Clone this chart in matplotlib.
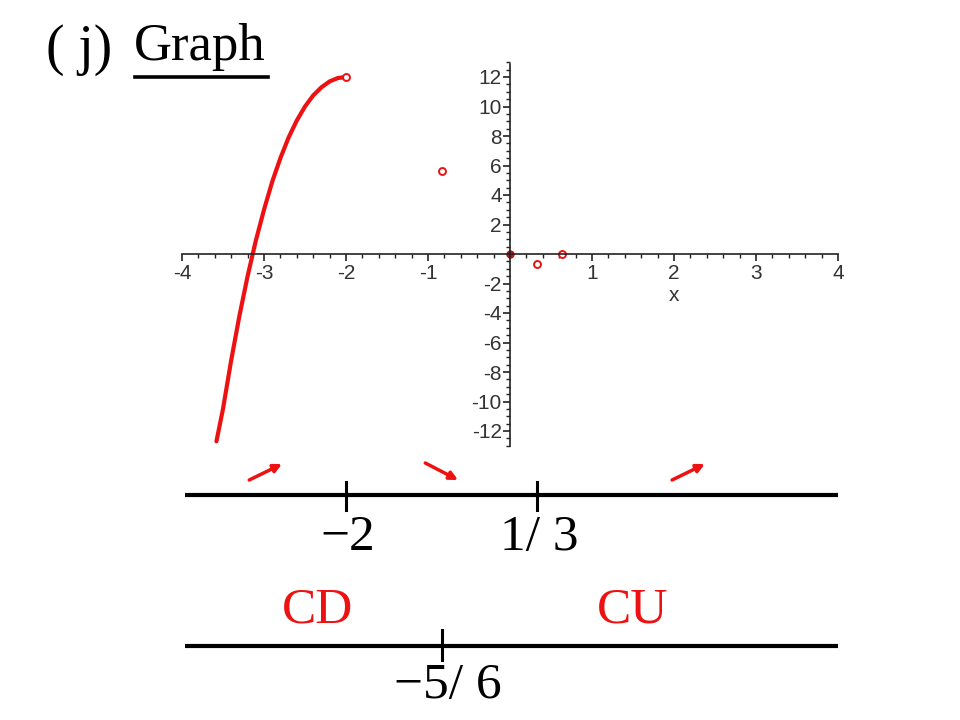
import matplotlib
matplotlib.use("Agg")
import matplotlib.pyplot as plt
from matplotlib.ticker import MultipleLocator

# curve (x, y)
curve_x = [-3.58, -3.5, -3.4, -3.3, -3.2, -3.1, -3.0, -2.9, -2.8, -2.7,
           -2.6, -2.5, -2.4, -2.3, -2.2, -2.1, -2.0]
curve_y = [-12.7, -10.5, -7.2, -4.2, -1.5, 0.9, 3.0, 4.9, 6.5, 7.9,
           9.05, 10.0, 10.75, 11.3, 11.7, 11.93, 12.0]

# isolated points
open_x = [-2.0, -0.83, 0.33, 0.64]
open_y = [12.0, 5.65, -0.7, 0.0]
dot_x = [0.0]
dot_y = [0.0]

# sign charts
crit_points = [-2, 1/3]
crit_labels = ["\u22122", "1/ 3"]
infl_points = [-5/6]
infl_labels = ["\u22125/ 6"]
concavity = ["CD", "CU"]

RED = "#ee1111"
W, H = 960, 720

fig = plt.figure(figsize=(9.6, 7.2), dpi=100)
fig.patch.set_facecolor("white")

# title
fig.text(46 / W, 1 - 50 / H, "( j)", family="Liberation Serif", fontsize=40,
         va="center", ha="left")
fig.text(134 / W, 1 - 47 / H, "Graph", family="Liberation Serif", fontsize=38,
         va="center", ha="left")
fig.add_artist(plt.Line2D([135 / W, 268 / W], [1 - 77 / H, 1 - 77 / H],
                          color="black", lw=2.6))

# main plot, axes through origin
ax = fig.add_axes([182 / W, 1 - 445.75 / H, 656 / W, 383.5 / H])
ax.set_xlim(-4, 4)
ax.set_ylim(-13, 13)
for s in ["top", "right"]:
    ax.spines[s].set_visible(False)
ax.spines["left"].set_position(("data", 0))
ax.spines["bottom"].set_position(("data", 0))
ax.spines["left"].set_bounds(-13, 12.9)
for s in ["left", "bottom"]:
    ax.spines[s].set_color("#222222")
    ax.spines[s].set_linewidth(1.2)
ax.patch.set_alpha(0)

ax.xaxis.set_major_locator(MultipleLocator(1))
ax.xaxis.set_minor_locator(MultipleLocator(0.2))
ax.yaxis.set_major_locator(MultipleLocator(2))
ax.yaxis.set_minor_locator(MultipleLocator(0.5))
ax.tick_params(axis="x", which="major", direction="out", length=5, width=1.2,
               color="#222222", labelsize=15, pad=2)
ax.tick_params(axis="x", which="minor", direction="out", length=3, width=1.0,
               color="#222222")
ax.tick_params(axis="y", which="major", direction="out", length=5, width=1.2,
               color="#222222", labelsize=15, pad=1)
ax.tick_params(axis="y", which="minor", direction="out", length=3, width=1.0,
               color="#222222")
xt = [v for v in range(-4, 5) if v != 0]
ax.set_xticks(xt)
ax.set_xticklabels([str(v) for v in xt], family="Liberation Sans", color="#333333")
yt = [v for v in range(-12, 13, 2) if v != 0]
ax.set_yticks(yt)
ax.set_yticklabels([str(v) for v in yt], family="Liberation Sans", color="#333333")
ax.text(2, -2.2, "x", family="Liberation Sans", fontsize=15, color="#333333",
        ha="center", va="top")

ax.plot(curve_x, curve_y, color=RED, lw=3, solid_capstyle="round", clip_on=False)
ax.plot(open_x, open_y, "o", ms=5, mfc="white", mec=RED, mew=1.4, clip_on=False)
ax.plot(dot_x, dot_y, "o", ms=5, color="#bb1111", clip_on=False)

# number lines share the x scale with the plot
nl = fig.add_axes([182 / W, 0, 656 / W, 270 / H])
nl.set_xlim(-4, 4)
nl.set_ylim(720, 450)
nl.axis("off")

x0, x1 = -3.96, 4.02
y1, y2 = 495, 646
nl.plot([x0, x1], [y1, y1], color="black", lw=3, solid_capstyle="butt")
for p, lab in zip(crit_points, crit_labels):
    nl.plot([p, p], [482, 510], color="black", lw=2.2)
    nl.text(p + 0.02, 538, lab, family="Liberation Serif", fontsize=37,
            ha="center", va="center")

# increasing / decreasing arrows between critical points
edges = [x0] + crit_points + [x1]
trend = [1, -1, 1]
for a, b, t in zip(edges[:-1], edges[1:], trend):
    m = (a + b) / 2
    ya, yb = (480, 464) if t > 0 else (463, 480)
    nl.annotate("", xy=(m + 0.2, yb), xytext=(m - 0.2, ya),
                arrowprops=dict(arrowstyle="-|>", color=RED, lw=2.5,
                                mutation_scale=12, shrinkA=0, shrinkB=0))

nl.plot([x0, x1], [y2, y2], color="black", lw=3, solid_capstyle="butt")
for p, lab in zip(infl_points, infl_labels):
    nl.plot([p, p], [630, 660], color="black", lw=2.2)
    nl.text(p + 0.07, 686, lab, family="Liberation Serif", fontsize=37,
            ha="center", va="center")
edges2 = [x0] + infl_points + [x1]
for a, b, lab in zip(edges2[:-1], edges2[1:], concavity):
    nl.text((a + b) / 2 + (0.05 if lab == "CD" else -0.1), 610, lab,
            family="Liberation Serif", fontsize=37, color=RED,
            ha="center", va="center")

fig.savefig("out.png", dpi=100, facecolor="white")
